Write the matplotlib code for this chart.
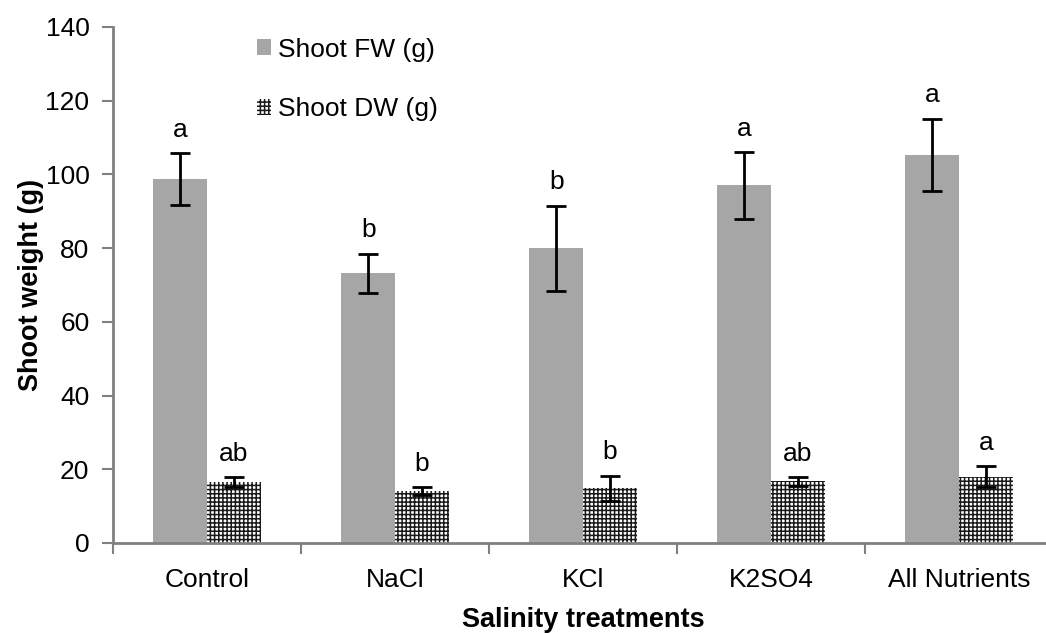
import matplotlib
matplotlib.use("Agg")
import matplotlib.pyplot as plt
import numpy as np

categories = ["Control", "NaCl", "KCl", "K2SO4", "All Nutrients"]
fw = [98.8, 73.2, 80.0, 97.0, 105.3]
fw_err = [7.0, 5.3, 11.5, 9.0, 9.8]
dw = [16.6, 14.1, 14.8, 16.7, 18.0]
dw_err = [1.3, 1.1, 3.4, 1.2, 2.9]
fw_letters = ["a", "b", "b", "a", "a"]
dw_letters = ["ab", "b", "b", "ab", "a"]

plt.rcParams['font.family'] = ['Liberation Sans', 'DejaVu Sans']
plt.rcParams['hatch.linewidth'] = 1.1
plt.rcParams['hatch.color'] = '#1a1a1a'

fig = plt.figure(figsize=(10.46, 6.33), dpi=100)
ax = fig.add_axes([113/1046, 90/633, 940/1046, 516/633])

x = np.arange(len(categories))
w = 0.285
ax.bar(x - w/2, fw, w, color='#a6a6a6', label='Shoot FW (g)', zorder=2)
ax.bar(x + w/2, dw, w, color='white', hatch='++++', edgecolor='#1a1a1a',
       linewidth=0, label='Shoot DW (g)', zorder=2)
ax.errorbar(x - w/2, fw, yerr=fw_err, fmt='none', ecolor='black', elinewidth=2,
            capsize=7, capthick=2, zorder=3)
ax.errorbar(x + w/2, dw, yerr=dw_err, fmt='none', ecolor='black', elinewidth=2,
            capsize=7, capthick=2, zorder=3)

for xi, v, e, t in zip(x - w/2, fw, fw_err, fw_letters):
    ax.text(xi, v + e + 3.1, t, ha='center', va='bottom', fontsize=19)
for xi, v, e, t in zip(x + w/2, dw, dw_err, dw_letters):
    ax.text(xi, v + e + 3.1, t, ha='center', va='bottom', fontsize=19)

ax.set_xlim(-0.5, len(categories) - 0.5)
ax.set_ylim(0, 140)
ax.set_yticks(np.arange(0, 141, 20))
ax.set_xticks(x)
ax.set_xticklabels(categories, fontsize=19)
ax.set_xticks(np.arange(-0.5, len(categories), 1.0), minor=True)
ax.tick_params(axis='x', which='major', length=0, pad=18)
ax.tick_params(axis='x', which='minor', length=8, width=1.5, color='#808080', direction='out')
ax.tick_params(axis='y', labelsize=19, length=8, width=1.5, color='#808080', pad=9)

for s in ['top', 'right']:
    ax.spines[s].set_visible(False)
for s in ['left', 'bottom']:
    ax.spines[s].set_color('#808080')
    ax.spines[s].set_linewidth(2)

ax.set_xlabel('Salinity treatments', fontsize=19.5, fontweight='bold', labelpad=11)
ax.set_ylabel('Shoot weight (g)', fontsize=19.5, fontweight='bold', labelpad=1)

leg = ax.legend(loc='upper left', bbox_to_anchor=(0.139, 1.005), frameon=False,
                fontsize=19, handlelength=0.55, handleheight=0.55,
                handletextpad=0.25, labelspacing=1.35, borderpad=0)

fig.savefig('out.png', dpi=100)
